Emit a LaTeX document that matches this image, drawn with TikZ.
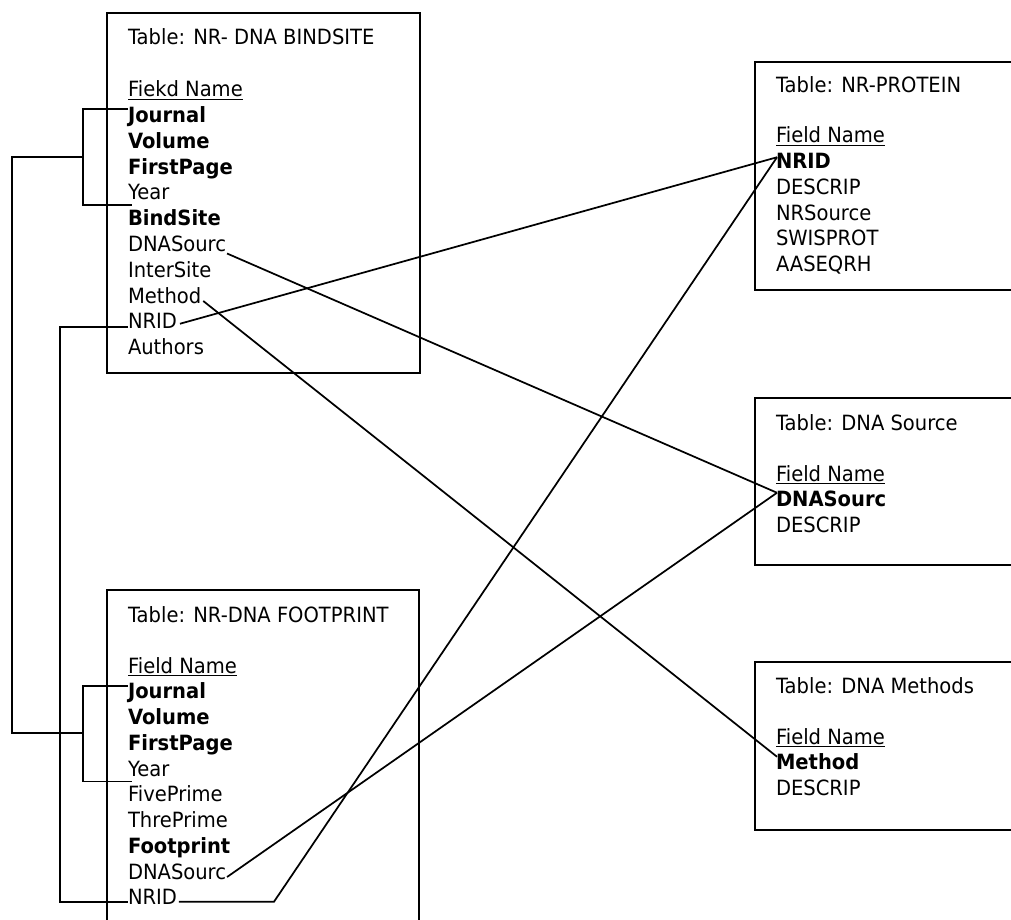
\documentclass[tikz,border=0pt]{standalone}
\usepackage{fontspec}
\setmainfont{DejaVu Sans}[FakeStretch=0.93]
\usetikzlibrary{calc}
\begin{document}
\begin{tikzpicture}[x=0.75pt,y=-0.75pt,
  fld/.style={anchor=base west,inner sep=0pt,outer sep=0pt,font=\fontsize{15.75pt}{19pt}\selectfont},
  bfld/.style={fld,font=\fontsize{15.75pt}{19pt}\selectfont\bfseries},
  tbox/.style={draw=black,line width=1.5pt},
  conn/.style={draw=black,line width=1.3pt},
  uline/.style={draw=black,line width=1pt}]
\useasboundingbox (0,0) rectangle (1011,920);
\clip (0,0) rectangle (1011,920);
% boxes
\draw[tbox] (107,13) rectangle (420,373);
\draw[tbox] (107,590) rectangle (419,935);
\draw[tbox] (755,62) rectangle (1020,290);
\draw[tbox] (755,398) rectangle (1020,565);
\draw[tbox] (755,662) rectangle (1020,830);
% top-left table
\node[fld] (tt) at (128,45) {Table: NR- DNA BINDSITE};
\node[fld] (tf) at (128,97) {Fiekd Name};
\node[bfld] (tj) at (128,122.75) {Journal};
\node[bfld] (tv) at (128,148.5) {Volume};
\node[bfld] (tp) at (128,174.25) {FirstPage};
\node[fld] (ty) at (128,200) {Year};
\node[bfld] (tb) at (128,225.75) {BindSite};
\node[fld] (td) at (128,251.5) {DNASourc};
\node[fld] (ti) at (128,277.25) {InterSite};
\node[fld] (tm) at (128,303) {Method};
\node[fld] (tn) at (128,328.75) {NRID};
\node[fld] (ta) at (128,354.5) {Authors};
% bottom-left table
\node[fld] (bt) at (128,622) {Table: NR-DNA FOOTPRINT};
\node[fld] (bf) at (128,673) {Field Name};
\node[bfld] (bj) at (128,698.75) {Journal};
\node[bfld] (bv) at (128,724.5) {Volume};
\node[bfld] (bp) at (128,750.25) {FirstPage};
\node[fld] (by) at (128,776) {Year};
\node[fld] (b5) at (128,801.75) {FivePrime};
\node[fld] (b3) at (128,827.5) {ThrePrime};
\node[bfld] (bfp) at (128,853.25) {Footprint};
\node[fld] (bd) at (128,879) {DNASourc};
\node[fld] (bn) at (128,904.75) {NRID};
% NR-PROTEIN
\node[fld] (pt) at (776,93) {Table: NR-PROTEIN};
\node[fld] (pf) at (776,143) {Field Name};
\node[bfld] (pn) at (776,168.75) {NRID};
\node[fld] (pd) at (776,194.5) {DESCRIP};
\node[fld] (ps) at (776,220.25) {NRSource};
\node[fld] (pw) at (776,246) {SWISPROT};
\node[fld] (pa) at (776,271.75) {AASEQRH};
% DNA Source
\node[fld] (st) at (776,430) {Table: DNA Source};
\node[fld] (sf) at (776,481) {Field Name};
\node[bfld] (sd) at (776,506.75) {DNASourc};
\node[fld] (sx) at (776,532.5) {DESCRIP};
% DNA Methods
\node[fld] (mt) at (776,693) {Table: DNA Methods};
\node[fld] (mf) at (776,744) {Field Name};
\node[bfld] (mm) at (776,769.75) {Method};
\node[fld] (mx) at (776,795.5) {DESCRIP};
% underlines
\foreach \n in {tf,bf,pf,sf,mf}
  \draw[uline] ($(\n.base west)+(0,2.2)$) -- ($(\n.base east)+(0,2.2)$);
% connectors
\coordinate (tbr) at (83,157);
\coordinate (bbr) at (83,733);
\draw[conn] ($(tj.base west)+(0,-14)$) -- ++(-45,0) |- ($(ty.base west)+(4,5)$);
\draw[conn] ($(bj.base west)+(0,-13)$) -- ++(-45,0) |- ($(by.base west)+(4,5.5)$);
\draw[conn] (tbr) -- (12,157) |- (bbr);
\draw[conn] ($(tn.base west)+(0,-1.5)$) -- ++(-68,0) |- ($(bn.base west)+(0,-3)$);
\draw[conn] ($(bn.base east)+(2,-3)$) -- ++(95,0) -- ($(pn.base west)+(1,-11.5)$);
\draw[conn] ($(tn.base east)+(3,-5)$) -- ($(pn.base west)+(1,-11.5)$);
\draw[conn] ($(td.base east)+(1,2)$) -- ($(sd.base west)+(1,-14)$);
\draw[conn] ($(bd.base east)+(1,-2)$) -- ($(sd.base west)+(1,-14)$);
\draw[conn] ($(tm.base east)+(2,-2)$) -- ($(mm.base west)+(1,-13)$);
\end{tikzpicture}
\end{document}
